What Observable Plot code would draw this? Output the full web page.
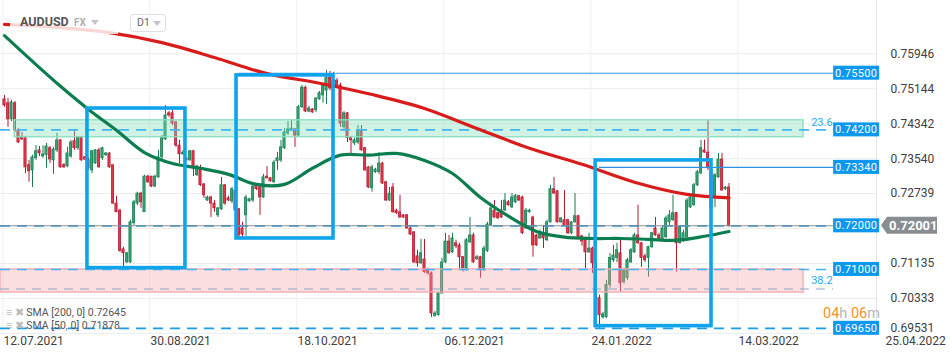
<!DOCTYPE html>
<html><head><meta charset="utf-8">
<script src="https://cdn.jsdelivr.net/npm/d3@7"></script>
<script src="https://cdn.jsdelivr.net/npm/@observablehq/plot@0.6"></script>
<style>
body{margin:0;background:#fff;font-family:Roboto,"Noto Sans",sans-serif;}
#wrap{position:relative;width:950px;height:360px;overflow:hidden;}
.ov{position:absolute;white-space:pre;line-height:1;}
</style></head><body>
<div id="wrap">
<div id="chart"></div>
<div class="ov" style="left:10px;top:13px;width:108px;height:21px;background:rgba(255,255,255,0.82)"></div>
<div class="ov" style="left:20px;top:16px;font-weight:bold;font-size:12.5px;color:#555">AUDUSD</div>
<div class="ov" style="left:74px;top:18px;font-size:10px;font-weight:bold;color:#b0b0b0">FX</div>
<div class="ov" style="left:91px;top:20px;width:0;height:0;border-left:4px solid transparent;border-right:4px solid transparent;border-top:5px solid #c4c4c4"></div>
<div class="ov" style="left:130px;top:14px;width:34px;height:16px;border:1px solid #dedede;border-radius:3px;background:#fff"></div>
<div class="ov" style="left:137px;top:18px;font-size:10.5px;color:#666">D1</div>
<div class="ov" style="left:153px;top:21px;width:0;height:0;border-left:4px solid transparent;border-right:4px solid transparent;border-top:5px solid #c4c4c4"></div>
<div class="ov" style="left:6px;top:308px;font-size:10.5px;color:#555"><span style="color:#bbb">≡ ✖</span> SMA [200, 0] 0.72645</div>
<div class="ov" style="left:6px;top:321px;font-size:10.5px;color:#555"><span style="color:#bbb">≡ ✖</span> SMA [50, 0] 0.71878</div>
<div class="ov" style="left:823px;top:307px;font-size:14.5px;color:#f5921e">04<span style="color:#b5b5b5">h</span> 06<span style="color:#b5b5b5">m</span></div>
</div>
<script>
// ---- data ----
const opens = [.7490,.7481,.7444,.7481,.7419,.7403,.7401,.7339,.7327,.7355,.7373,.7359,.7362,.7378,.7350,.7373,.7396,.7339,.7336,.7359,.7394,.7378,.7403,.7357,.7352,.7327,.7343,.7373,.7355,.7362,.7366,.7339,.7251,.7235,.7146,.7116,.7116,.7206,.7251,.7274,.7231,.7313,.7313,.7290,.7311,.7357,.7398,.7458,.7458,.7437,.7384,.7364,.7355,.7350,.7371,.7316,.7329,.7295,.7258,.7265,.7251,.7224,.7238,.7293,.7263,.7256,.7281,.7238,.7194,.7224,.7256,.7258,.7293,.7288,.7265,.7313,.7309,.7300,.7348,.7350,.7378,.7412,.7419,.7421,.7407,.7472,.7517,.7462,.7467,.7465,.7490,.7499,.7510,.7540,.7515,.7533,.7522,.7426,.7458,.7401,.7389,.7391,.7419,.7378,.7334,.7286,.7323,.7323,.7343,.7300,.7258,.7288,.7235,.7231,.7224,.7224,.7194,.7185,.7130,.7114,.7123,.7098,.7091,.6993,.6995,.7045,.7116,.7164,.7139,.7160,.7155,.7128,.7098,.7162,.7178,.7123,.7128,.7098,.7142,.7201,.7235,.7229,.7235,.7235,.7254,.7242,.7254,.7268,.7265,.7194,.7231,.7219,.7178,.7171,.7178,.7167,.7208,.7284,.7279,.7208,.7213,.7213,.7183,.7208,.7222,.7176,.7169,.7139,.7148,.7114,.7034,.6990,.6990,.7064,.7121,.7126,.7137,.7071,.7080,.7116,.7139,.7178,.7160,.7130,.7126,.7151,.7194,.7178,.7167,.7174,.7208,.7213,.7229,.7160,.7167,.7174,.7242,.7247,.7293,.7320,.7373,.7368,.7327,.7265,.7311,.7352,.7284,.7288];
const closes = [.7476,.7444,.7483,.7419,.7391,.7398,.7334,.7325,.7357,.7371,.7366,.7364,.7382,.7352,.7375,.7396,.7334,.7334,.7366,.7391,.7378,.7403,.7350,.7352,.7332,.7371,.7373,.7334,.7378,.7366,.7334,.7251,.7231,.7142,.7137,.7137,.7208,.7254,.7274,.7254,.7313,.7300,.7290,.7313,.7357,.7401,.7453,.7453,.7435,.7384,.7364,.7368,.7350,.7371,.7332,.7336,.7293,.7270,.7265,.7251,.7240,.7240,.7293,.7251,.7258,.7284,.7235,.7178,.7180,.7265,.7261,.7290,.7284,.7265,.7311,.7309,.7302,.7345,.7355,.7380,.7414,.7421,.7423,.7407,.7472,.7517,.7462,.7469,.7460,.7492,.7504,.7522,.7540,.7515,.7533,.7522,.7435,.7458,.7401,.7396,.7396,.7419,.7373,.7327,.7288,.7334,.7329,.7343,.7297,.7258,.7274,.7231,.7229,.7219,.7219,.7194,.7180,.7116,.7114,.7137,.7094,.7091,.6999,.6999,.7045,.7116,.7164,.7137,.7171,.7153,.7128,.7103,.7167,.7178,.7116,.7128,.7098,.7148,.7203,.7240,.7219,.7217,.7219,.7258,.7247,.7265,.7268,.7258,.7183,.7235,.7235,.7155,.7155,.7185,.7171,.7208,.7284,.7274,.7208,.7217,.7201,.7183,.7208,.7222,.7174,.7164,.7139,.7148,.7114,.7034,.6995,.6997,.7064,.7126,.7132,.7144,.7068,.7098,.7121,.7144,.7178,.7160,.7126,.7121,.7151,.7183,.7178,.7167,.7194,.7217,.7224,.7229,.7160,.7197,.7183,.7258,.7265,.7293,.7323,.7378,.7368,.7332,.7242,.7316,.7352,.7281,.7288,.7200];
const highs = [.7499,.7492,.7488,.7485,.7423,.7414,.7405,.7350,.7362,.7384,.7382,.7384,.7389,.7382,.7380,.7412,.7398,.7343,.7380,.7396,.7419,.7405,.7405,.7359,.7357,.7373,.7375,.7378,.7380,.7368,.7368,.7339,.7268,.7238,.7151,.7139,.7213,.7258,.7277,.7277,.7316,.7316,.7313,.7316,.7373,.7407,.7476,.7462,.7465,.7439,.7396,.7373,.7357,.7373,.7373,.7339,.7339,.7297,.7268,.7268,.7258,.7242,.7311,.7295,.7268,.7288,.7284,.7240,.7208,.7270,.7263,.7293,.7297,.7290,.7318,.7336,.7311,.7350,.7368,.7396,.7423,.7439,.7442,.7423,.7476,.7522,.7520,.7474,.7469,.7494,.7508,.7527,.7556,.7554,.7552,.7538,.7527,.7462,.7460,.7405,.7401,.7430,.7430,.7380,.7336,.7339,.7332,.7368,.7345,.7302,.7288,.7297,.7238,.7270,.7226,.7226,.7197,.7187,.7144,.7169,.7169,.7103,.7094,.7004,.7048,.7126,.7183,.7178,.7183,.7167,.7160,.7130,.7171,.7219,.7183,.7132,.7130,.7153,.7208,.7245,.7258,.7231,.7258,.7274,.7258,.7274,.7272,.7270,.7268,.7240,.7238,.7222,.7180,.7190,.7201,.7213,.7293,.7311,.7281,.7219,.7281,.7215,.7210,.7274,.7224,.7178,.7171,.7183,.7151,.7116,.7041,.7002,.7075,.7137,.7155,.7160,.7167,.7103,.7126,.7148,.7183,.7247,.7162,.7135,.7153,.7185,.7219,.7183,.7199,.7222,.7235,.7270,.7231,.7201,.7190,.7263,.7270,.7297,.7327,.7396,.7396,.7442,.7332,.7320,.7366,.7366,.7290,.7297];
const lows = [.7472,.7426,.7439,.7414,.7389,.7396,.7320,.7300,.7288,.7350,.7359,.7355,.7332,.7343,.7318,.7368,.7332,.7332,.7334,.7355,.7373,.7373,.7348,.7350,.7327,.7320,.7341,.7332,.7350,.7359,.7332,.7249,.7231,.7139,.7103,.7114,.7114,.7201,.7247,.7240,.7231,.7297,.7288,.7288,.7309,.7350,.7396,.7449,.7430,.7380,.7343,.7362,.7348,.7348,.7313,.7313,.7290,.7263,.7256,.7219,.7231,.7219,.7235,.7247,.7256,.7251,.7231,.7171,.7171,.7176,.7254,.7254,.7281,.7224,.7263,.7307,.7300,.7297,.7327,.7345,.7375,.7407,.7417,.7380,.7403,.7469,.7460,.7460,.7458,.7460,.7488,.7481,.7478,.7510,.7513,.7517,.7426,.7419,.7391,.7366,.7384,.7387,.7371,.7325,.7286,.7277,.7320,.7318,.7295,.7256,.7256,.7229,.7226,.7217,.7217,.7192,.7178,.7114,.7105,.7112,.7091,.7087,.6990,.6990,.6993,.7043,.7114,.7135,.7137,.7148,.7098,.7094,.7096,.7160,.7114,.7121,.7080,.7096,.7139,.7199,.7217,.7215,.7217,.7233,.7245,.7240,.7251,.7256,.7180,.7192,.7229,.7128,.7153,.7169,.7148,.7164,.7206,.7272,.7206,.7206,.7199,.7180,.7180,.7206,.7171,.7153,.7098,.7137,.7091,.7029,.6965,.6986,.6988,.7057,.7116,.7116,.7048,.7066,.7075,.7114,.7137,.7158,.7105,.7116,.7082,.7148,.7176,.7164,.7164,.7171,.7201,.7210,.7094,.7158,.7162,.7171,.7240,.7245,.7290,.7318,.7366,.7327,.7240,.7242,.7309,.7279,.7281,.7197];

const sma200Idx = [0,15,30,45,60,75,90,105,120,135,150,165,180,195,207];
const sma200 = [0.7662,0.7655,0.7643,0.7620,0.7586,0.7549,0.7527,0.7501,0.7469,0.7423,0.7378,0.7341,0.7300,0.7272,0.7264];
const sma50Idx = [0,8,16,24,32,40,48,56,64,72,80,88,96,104,112,120,128,136,144,152,160,168,176,184,192,200,207];
const sma50 = [0.7636,0.7577,0.7520,0.7467,0.7419,0.7368,0.7343,0.7332,0.7318,0.7295,0.7295,0.7332,0.7362,0.7362,0.7366,0.7350,0.7320,0.7265,0.7222,0.7187,0.7174,0.7171,0.7171,0.7169,0.7167,0.7176,0.7187];

const yGrid = [0.75946,0.75144,0.74342,0.73540,0.72739,0.71937,0.71135,0.70333,0.69531];
const yTickLabels = [0.75946,0.75144,0.74342,0.73540,0.72739,0.71135,0.70333];
const yTickLast = 0.69531;
const dateLabels = ["12.07.2021","30.08.2021","18.10.2021","06.12.2021","24.01.2022","14.03.2022","25.04.2022"];
const dateIdx = [0,42,84,126,168,210,252];

const solidLevels = [0.7550, 0.7334];
const solidFrom = [67, 170];
const dashedLevels = [0.7420, 0.7200, 0.7100, 0.6965];
const labelLevels = [0.7550, 0.7420, 0.7334, 0.7200, 0.7100, 0.6965];
const fib236 = {top:0.7442, bottom:0.7403, from:2.9, to:228.3, level:0.7420, label:"23.6"};
const fib382 = {top:0.7100, bottom:0.7047, to:228.3, level:0.7055, label:"38.2"};
const boxes = [
  {x1:23.7, x2:51.7, top:0.7469, bottom:0.7103},
  {x1:66.3, x2:94.0, top:0.7545, bottom:0.7171},
  {x1:168.9, x2:202.0, top:0.7350, bottom:0.6970}
];
const lastPrice = 0.72001;

// ---- build ----
const candles = opens.map((o,i)=>({i, o, h:highs[i], l:lows[i], c:closes[i]}));
const up = candles.filter(d=>d.c>=d.o), dn = candles.filter(d=>d.c<d.o);
const xMin = -8/7, xMax = 872/3.5, labelStart = 236.9;
const minB = 0.00009;
const bTop = d => Math.max(d.o,d.c, Math.min(d.o,d.c)+minB*2);
const bBot = d => Math.min(d.o,d.c);
const s200 = sma200Idx.map((x,k)=>({x, y:sma200[k]}));
const s50 = sma50Idx.map((x,k)=>({x, y:sma50[k]}));

const plot = Plot.plot({
  width:950, height:360, marginLeft:0, marginRight:74, marginTop:0, marginBottom:27,
  x:{domain:[xMin,xMax], axis:null},
  y:{domain:[yTickLast,0.77167], axis:null},
  style:{fontFamily:"Roboto, 'Noto Sans', sans-serif", background:"#fff", overflow:"visible"},
  marks:[
    Plot.ruleY(yGrid, {stroke:"#ececec", strokeWidth:1}),
    Plot.ruleX(dateIdx.slice(0,6), {x:d=>d-0.5, stroke:"#efefef", strokeWidth:1}),
    Plot.ruleX([xMax], {stroke:"#e4e4e4", strokeWidth:1}),
    // candles
    Plot.ruleX(up, {x:"i", y1:"l", y2:"h", stroke:"#1c7a4f", strokeWidth:1}),
    Plot.ruleX(dn, {x:"i", y1:"l", y2:"h", stroke:"#b01b2f", strokeWidth:1}),
    Plot.rect(up, {x1:d=>d.i-0.32, x2:d=>d.i+0.32, y1:bBot, y2:bTop, fill:"#31a574", stroke:"#1c7a4f", strokeWidth:0.7}),
    Plot.rect(dn, {x1:d=>d.i-0.32, x2:d=>d.i+0.32, y1:bBot, y2:bTop, fill:"#e6364b", stroke:"#b01b2f", strokeWidth:0.7}),
    // fib bands
    Plot.rect([fib236], {x1:"from", x2:"to", y1:"bottom", y2:"top", fill:"#7fdcb8", fillOpacity:0.38, stroke:"#86e0bf", strokeWidth:1.3}),
    Plot.rect([fib382], {x1:()=>xMin, x2:"to", y1:"bottom", y2:"top", fill:"#f5a3aa", fillOpacity:0.36, stroke:"#f3a9b0", strokeWidth:1.3}),
    // levels
    Plot.ruleY(solidLevels, {y:d=>d, x1:(d,k)=>solidFrom[k], x2:()=>labelStart, stroke:"#2b90e6", strokeWidth:1.1}),
    Plot.ruleY([fib382.level], {x1:()=>xMin, x2:()=>labelStart, stroke:"#8fa3c7", strokeWidth:1.1, strokeDasharray:"9,7"}),
    Plot.ruleY([dashedLevels[0], dashedLevels[2]], {x1:()=>xMin, x2:()=>labelStart, stroke:"#45b4f2", strokeWidth:1.6, strokeDasharray:"10,7"}),
    Plot.ruleY([dashedLevels[1], dashedLevels[3]], {x1:()=>xMin, x2:()=>labelStart, stroke:"#1a9ceb", strokeWidth:1.8, strokeDasharray:"10,7"}),
    Plot.ruleY([lastPrice], {stroke:"#8c8c8c", strokeWidth:1}),
    Plot.text([fib236], {x:()=>labelStart-0.3, y:"level", text:"label", textAnchor:"end", lineAnchor:"bottom", dy:-4, fill:"#2aa8f0", fontSize:11}),
    Plot.text([fib382], {x:()=>labelStart-0.3, y:"level", text:"label", textAnchor:"end", lineAnchor:"bottom", dy:-5, fill:"#2aa8f0", fontSize:11}),
    // SMAs
    Plot.line(s50, {x:"x", y:"y", stroke:"#0c7d4e", strokeWidth:3.2, curve:"catmull-rom"}),
    Plot.line(s200, {x:"x", y:"y", stroke:"#d81c1c", strokeWidth:3.2, curve:"catmull-rom"}),
    // boxes
    Plot.rect(boxes, {x1:"x1", x2:"x2", y1:"bottom", y2:"top", fill:"none", stroke:"#0ea4ec", strokeWidth:3.6}),
    // axes text
    Plot.text(yTickLabels, {y:d=>d, text:d=>d.toFixed(5), frameAnchor:"right", textAnchor:"start", dx:14, fontSize:12, fill:"#404040"}),
    Plot.text([yTickLast], {y:d=>d, text:d=>d.toFixed(5), frameAnchor:"right", textAnchor:"start", dx:14, dy:-5, fontSize:12, fill:"#404040"}),
    Plot.text(dateIdx, {x:d=>d, text:(d,k)=>dateLabels[k], frameAnchor:"bottom", textAnchor:"start", dx:-1, dy:11, fontSize:12, fill:"#404040"})
  ]
});
document.getElementById("chart").appendChild(plot);

// level label boxes and last price tag, positioned through Plot's scales
const xs = plot.scale("x"), ys = plot.scale("y");
const svg = d3.select(plot);
const g = svg.append("g").attr("font-family","Roboto, 'Noto Sans', sans-serif").attr("text-anchor","start");
const bx = xs.apply(labelStart);
labelLevels.forEach(v=>{
  const yy = ys.apply(v);
  g.append("rect").attr("x",bx).attr("y",yy-7).attr("width",46).attr("height",14).attr("fill","#0b98ee");
  g.append("text").attr("x",bx+23).attr("y",yy).attr("dy","0.35em").attr("text-anchor","middle")
    .attr("fill","#fff").attr("font-size",11).attr("letter-spacing","0.3").text(v.toFixed(5));
});
const yp = ys.apply(lastPrice), px = xs.apply(xMax)+5;
g.append("polygon").attr("points",`${px},${yp} ${px+6},${yp-8.5} ${px+56},${yp-8.5} ${px+56},${yp+8.5} ${px+6},${yp+8.5}`).attr("fill","#878d90");
g.append("text").attr("x",px+8).attr("y",yp).attr("dy","0.36em").attr("text-anchor","start").attr("fill","#fff").attr("font-weight","bold").attr("font-size",13).text(lastPrice.toFixed(5));
</script>
</body></html>
